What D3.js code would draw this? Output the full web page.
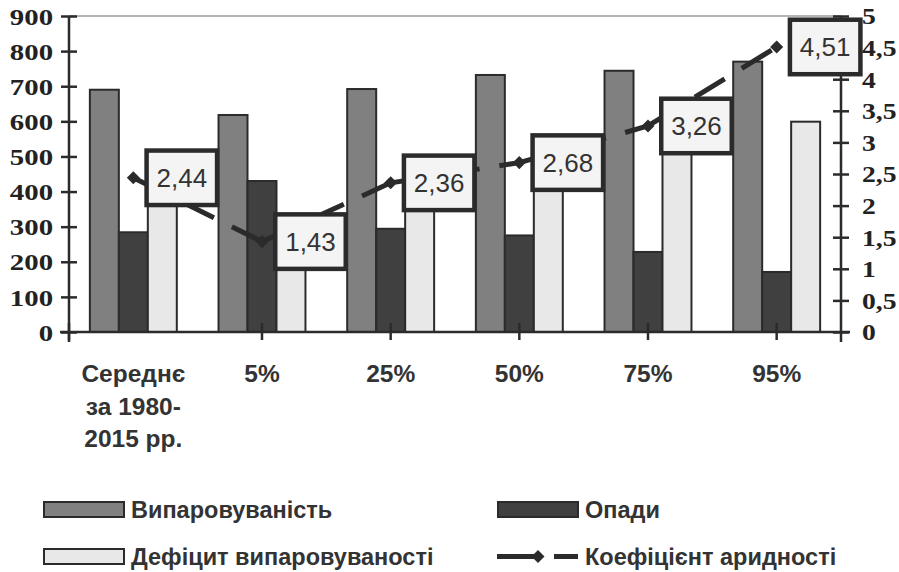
<!DOCTYPE html>
<html><head><meta charset="utf-8">
<script src="https://cdn.jsdelivr.net/npm/d3@7"></script>
<style>
body{margin:0;background:#fff;}
svg{display:block;}
</style></head>
<body>
<script>
const categories = [["Середнє","за 1980-","2015 рр."],["5%"],["25%"],["50%"],["75%"],["95%"]];
const catKeys = ["avg","p5","p25","p50","p75","p95"];
const evaporation = [690, 618, 692, 732, 744, 770];
const precipitation = [284, 430, 294, 275, 228, 171];
const deficit = [406, 188, 398, 457, 516, 599];
const aridity = [2.44, 1.43, 2.36, 2.68, 3.26, 4.51];
const leftTicks = [0,100,200,300,400,500,600,700,800,900];
const rightTicks = [0,0.5,1,1.5,2,2.5,3,3.5,4,4.5,5];
const seriesNames = ["Випаровуваність","Опади","Дефіцит випаровуваності","Коефіцієнт аридності"];

const W = 899, H = 572;
const svg = d3.select("body").append("svg").attr("width", W).attr("height", H);

const x = d3.scaleBand().domain(catKeys).range([69, 841]).padding(0);
const yL = d3.scaleLinear().domain([0, 900]).range([332, 16]);
const yR = d3.scaleLinear().domain([0, 5]).range([332, 16]);
const x1 = d3.scaleBand().domain([0,1,2]).range([0, x.bandwidth()]).paddingInner(0).paddingOuter(0.72);

const fills = ["#808080", "#404040", "#e8e8e8"];
const stroke = "#2b2b2b";
const seriesVals = [evaporation, precipitation, deficit];
const fmt = v => String(v).replace(".", ",");
const comma = v => d3.format("")(v).replace(".", ",");

// top grid line
svg.append("line").attr("x1", 69).attr("x2", 841).attr("y1", yL(900)).attr("y2", yL(900))
  .attr("stroke", "#b4b4b4").attr("stroke-width", 2);

// bars
seriesVals.forEach((vals, si) => {
  svg.append("g").selectAll("rect").data(vals).join("rect")
    .attr("x", (d, i) => x(catKeys[i]) + x1(si))
    .attr("y", d => yL(d))
    .attr("width", x1.bandwidth())
    .attr("height", d => yL(0) - yL(d))
    .attr("fill", fills[si]).attr("stroke", stroke).attr("stroke-width", 2);
});

// axes
const axL = svg.append("g").attr("transform", "translate(69,0)")
  .call(d3.axisLeft(yL).tickValues(leftTicks).tickSize(8).tickFormat(d => d).tickPadding(0));
const axR = svg.append("g").attr("transform", "translate(841,0)")
  .call(d3.axisRight(yR).tickValues(rightTicks).tickSize(8).tickFormat(comma).tickPadding(0));
const axB = svg.append("g").attr("transform", "translate(0,332)")
  .call(d3.axisBottom(x).tickValues(catKeys.slice(1)).tickSize(8).tickFormat(""));

[axL, axR, axB].forEach(g => {
  g.select(".domain").attr("stroke", stroke).attr("stroke-width", 2.5);
  g.selectAll(".tick line").attr("stroke", stroke).attr("stroke-width", 2.5);
});
axL.select(".domain").attr("d", "M0,16V342");
axR.select(".domain").attr("d", "M0,16V342");
axB.select(".domain").attr("d", "M60,0H850");
axL.selectAll(".tick line").attr("x1", 8);
axR.selectAll(".tick line").attr("x1", -8);
axB.selectAll(".tick line").attr("y1", -9);
axB.append("line").attr("x1", 69).attr("x2", 69).attr("y1", -9).attr("y2", 8).attr("stroke", stroke).attr("stroke-width", 2.5);

axL.selectAll(".tick text").attr("x", -13.3).attr("dy", "0.34em")
  .attr("transform", "scale(1.2,1)")
  .style("font-family", "'Liberation Serif','Times New Roman',serif").style("font-weight", "bold")
  .style("font-size", "24px").attr("fill", "#222");
axR.selectAll(".tick text").attr("x", 17.5).attr("dy", "0.34em")
  .attr("transform", "scale(1.2,1)")
  .style("font-family", "'Liberation Serif','Times New Roman',serif").style("font-weight", "bold")
  .style("font-size", "23px").attr("fill", "#222");

// category labels
const catG = svg.append("g");
categories.forEach((lines, i) => {
  const cx = x(catKeys[i]) + x.bandwidth() / 2;
  const t = catG.append("text").attr("x", cx).attr("y", 382)
    .attr("text-anchor", "middle")
    .style("font-family", "'Liberation Sans',Arial,sans-serif").style("font-weight", "bold")
    .style("font-size", "24.5px").attr("fill", "#333");
  lines.forEach((l, j) => t.append("tspan").attr("x", cx).attr("dy", j ? 32.5 : 0).text(l));
});

// aridity line (dash pattern restarts for each segment)
const pts = aridity.map((v, i) => [x(catKeys[i]) + x.bandwidth() / 2, yR(v)]);
const lineG = svg.append("g");
for (let i = 0; i < pts.length - 1; i++) {
  lineG.append("line").attr("x1", pts[i][0]).attr("y1", pts[i][1]).attr("x2", pts[i+1][0]).attr("y2", pts[i+1][1])
    .attr("stroke", stroke).attr("stroke-width", 5).attr("stroke-dasharray", "35,20");
}
const diamond = d3.symbol().type(d3.symbolSquare).size(85);
lineG.selectAll("path.mk").data(pts).join("path").attr("class", "mk")
  .attr("d", diamond).attr("transform", d => `translate(${d[0]},${d[1]}) rotate(45)`)
  .attr("fill", stroke);

// data labels
const lblG = svg.append("g");
pts.forEach((p, i) => {
  const g = lblG.append("g").attr("transform", `translate(${p[0] + 11},${p[1]})`);
  g.append("rect").attr("x", 2.25).attr("y", -27.25).attr("width", 70.5).attr("height", 54.5)
    .attr("fill", "#f4f4f4").attr("stroke", stroke).attr("stroke-width", 4.5);
  g.append("text").attr("x", 37.5).attr("y", 0).attr("dy", "0.36em").attr("text-anchor", "middle")
    .style("font-family", "'Liberation Sans',Arial,sans-serif").style("font-size", "26px")
    .attr("fill", "#333").text(fmt(aridity[i]));
});

// legend
const legG = svg.append("g").style("font-family", "'Liberation Sans',Arial,sans-serif")
  .style("font-weight", "bold").style("font-size", "23.5px");
const legPos = [[43, 501], [497, 501], [43, 548], [497, 548]];
[0, 1, 2].forEach(si => {
  const [lx, ly] = legPos[si];
  legG.append("rect").attr("x", lx + 1).attr("y", ly + 1).attr("width", 80).attr("height", 15)
    .attr("fill", fills[si]).attr("stroke", stroke).attr("stroke-width", 2);
  legG.append("text").attr("x", lx + 88).attr("y", ly + 17).attr("fill", "#333").text(seriesNames[si]);
});
{
  const [lx, ly] = legPos[3];
  legG.append("line").attr("x1", lx).attr("x2", lx + 81).attr("y1", ly + 8.5).attr("y2", ly + 8.5)
    .attr("stroke", stroke).attr("stroke-width", 5).attr("stroke-dasharray", "42,15");
  legG.append("path").attr("d", diamond).attr("transform", `translate(${lx + 41},${ly + 8.5}) rotate(45)`).attr("fill", stroke);
  legG.append("text").attr("x", lx + 88).attr("y", ly + 17).attr("fill", "#333").text(seriesNames[3]);
}
</script>
</body></html>
